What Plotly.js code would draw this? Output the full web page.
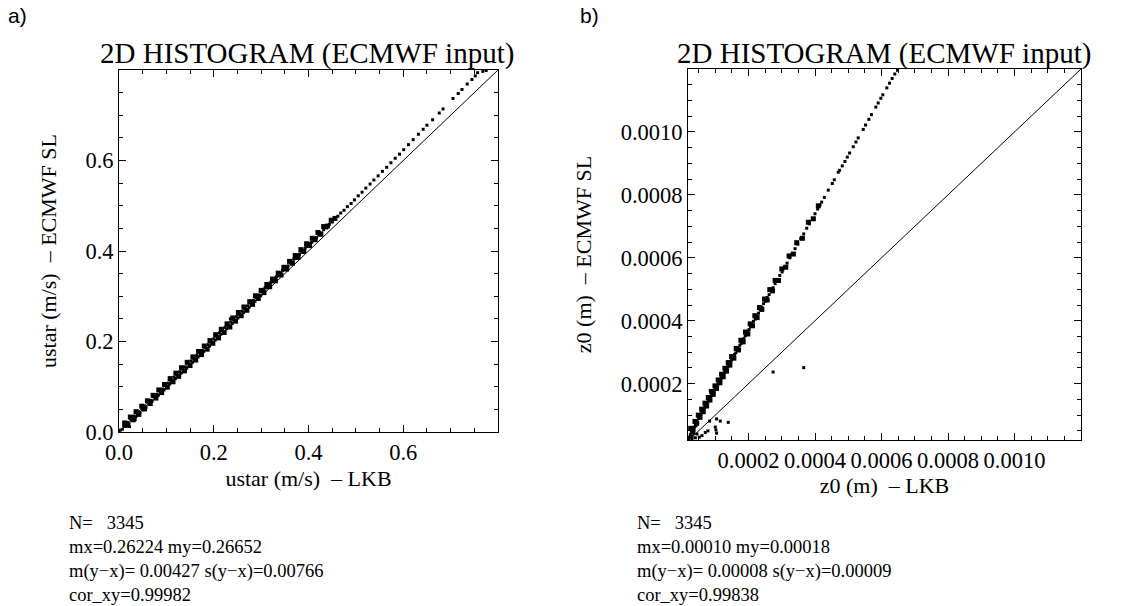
<!DOCTYPE html>
<html>
<head>
<meta charset="utf-8">
<script src="https://cdn.plot.ly/plotly-3.0.1.min.js"></script>
<style>html,body{margin:0;padding:0;background:#fff;}#chart{width:1131px;height:606px;}</style>
</head>
<body>
<div id="chart"></div>
<script>
// ---------- Panel a: ustar (m/s), LKB (x) vs ECMWF SL (y) ----------
const ustarLKB = [
  0.003,0.007,0.010,0.014,0.018,0.021,0.022,0.025,0.028,0.031,0.034,0.035,0.038,0.041,0.044,0.048,0.051,0.054,0.057,0.061,0.064,0.067,0.070,0.073,0.077,0.080,0.083,0.086,0.089,0.092,0.095,0.098,
  0.101,0.104,0.107,0.110,0.113,0.116,0.119,0.122,0.125,0.128,0.131,0.134,0.137,0.140,0.143,0.146,0.149,0.152,0.155,0.158,0.161,0.164,0.167,0.170,0.173,0.176,0.179,0.182,0.185,0.188,0.191,0.194,0.197,
  0.200,0.203,0.206,0.209,0.212,0.215,0.218,0.221,0.224,0.227,0.230,0.233,0.235,0.236,0.239,0.242,0.245,0.248,0.251,0.254,0.257,0.260,0.262,0.263,0.266,0.269,0.272,0.275,0.278,0.281,0.284,0.287,0.290,0.293,0.296,0.299,
  0.302,0.305,0.308,0.311,0.314,0.317,0.320,0.323,0.326,0.329,0.332,0.335,0.338,0.341,0.345,0.349,0.353,0.357,0.361,0.365,0.369,0.373,0.377,0.381,0.385,0.389,0.393,0.397,
  0.402,0.407,0.412,0.417,0.422,0.427,0.432,0.438,0.444,0.450,0.456,0.462,0.468,0.475,0.482,0.490,0.497,
  0.505,0.513,0.521,0.530,0.538,0.547,0.556,0.565,0.574,0.583,0.592,0.601,0.611,0.621,0.632,0.642,0.650,0.662,0.676,0.684,0.705,0.716,0.724,0.735,0.745,0.752,0.757,0.768,0.775
];
const ustarECMWF = [
  0.004,0.006,0.013,0.012,0.021,0.019,0.012,0.028,0.026,0.035,0.027,0.033,0.036,0.045,0.043,0.051,0.049,0.058,0.055,0.065,0.062,0.070,0.068,0.078,0.075,0.083,0.081,0.091,0.088,0.095,0.093,0.103,
  0.100,0.108,0.106,0.114,0.112,0.121,0.118,0.126,0.124,0.133,0.130,0.139,0.136,0.144,0.141,0.151,0.148,0.157,0.154,0.162,0.160,0.169,0.166,0.175,0.172,0.180,0.178,0.187,0.184,0.193,0.190,0.199,0.196,
  0.206,0.203,0.212,0.210,0.219,0.216,0.224,0.222,0.231,0.228,0.236,0.234,0.250,0.243,0.240,0.248,0.246,0.255,0.252,0.260,0.258,0.267,0.278,0.264,0.272,0.270,0.279,0.276,0.285,0.282,0.291,0.289,0.297,0.295,0.303,0.301,
  0.311,0.313,0.318,0.319,0.324,0.326,0.330,0.332,0.337,0.338,0.343,0.345,0.350,0.351,0.357,0.359,0.365,0.367,0.374,0.376,0.382,0.384,0.390,0.393,0.398,0.401,0.407,0.410,
  0.417,0.419,0.427,0.430,0.436,0.440,0.447,0.451,0.459,0.464,0.471,0.477,0.484,0.490,0.498,0.505,0.513,
  0.522,0.530,0.539,0.548,0.557,0.566,0.576,0.585,0.595,0.605,0.614,0.624,0.635,0.646,0.658,0.669,0.678,0.690,0.705,0.714,0.737,0.748,0.757,0.769,0.779,0.787,0.794,0.797,0.799
];
const ustarLKBdense = [
  0.012,0.018,0.024,0.030,0.036,0.042,0.048,0.054,0.060,0.066,0.072,0.078,0.084,0.090,0.096,0.102,0.108,0.114,0.120,0.126,0.132,0.138,0.144,0.150,0.156,0.162,0.168,0.174,0.180,0.186,0.192,0.198,
  0.204,0.210,0.216,0.222,0.228,0.234,0.240,0.246,0.252,0.258,0.264,0.270,0.276,0.282,0.288,0.294,0.300,0.306,0.312,0.318,0.324,0.330,0.336,0.342,0.348,0.354,0.360,0.366,0.372,0.378,0.384,0.390,
  0.396,0.402,0.408,0.414,0.420,0.426,0.432,0.440,0.448,0.456
];
const ustarECMWFdense = [
  0.020,0.015,0.033,0.027,0.045,0.039,0.057,0.051,0.069,0.063,0.081,0.075,0.093,0.087,0.105,0.099,0.118,0.111,0.130,0.123,0.142,0.135,0.154,0.147,0.166,0.159,0.178,0.171,0.190,0.183,0.202,0.196,
  0.215,0.208,0.227,0.220,0.239,0.232,0.252,0.245,0.264,0.257,0.276,0.269,0.288,0.282,0.301,0.295,0.313,0.308,0.326,0.321,0.338,0.334,0.351,0.347,0.364,0.360,0.377,0.373,0.390,0.386,0.403,0.399,
  0.416,0.412,0.428,0.425,0.441,0.437,0.454,0.455,0.468,0.472
];
const diagA = [0, 0.8];
const ticksA = [0, 0.2, 0.4, 0.6];
const statsA = ["N=\u00a0\u00a0\u00a03345", "mx=0.26224 my=0.26652", "m(y\u2212x)= 0.00427 s(y\u2212x)=0.00766", "cor_xy=0.99982"];

// ---------- Panel b: z0 (m), LKB (x) vs ECMWF SL (y) ----------
const z0LKB = [
  0.000020,0.000022,0.000025,0.000028,0.000030,0.000032,0.000035,0.000037,0.000040,0.000042,0.000045,0.000047,0.000050,0.000053,0.000055,0.000058,0.000060,0.000063,0.000065,0.000068,
  0.000070,0.000073,0.000075,0.000078,0.000080,0.000083,0.000085,0.000088,0.000090,0.000093,0.000095,0.000098,0.000100,0.000103,0.000105,0.000108,0.000110,0.000113,0.000115,0.000118,
  0.000120,0.000123,0.000125,0.000128,0.000130,0.000133,0.000135,0.000138,0.000140,0.000143,0.000145,0.000148,0.000150,0.000154,0.000158,0.000162,0.000166,0.000170,0.000174,0.000178,
  0.000182,0.000186,0.000190,0.000194,0.000198,0.000202,0.000206,0.000210,0.000215,0.000220,0.000225,0.000230,0.000235,0.000240,0.000245,0.000250,0.000256,0.000262,0.000268,0.000274,
  0.000280,0.000287,0.000294,0.000301,0.000308,0.000316,0.000324,0.000331,0.000340,0.000348,0.000357,0.000366,0.000375,0.000383,0.000392,0.000400,0.000408,0.000415,0.000420,0.000428,
  0.000440,0.000452,0.000458,0.000470,0.000474,0.000482,0.000490,0.000497,0.000504,0.000515,0.000523,0.000530,0.000545,0.000552,0.000562,0.000570,0.000583,0.000590,0.000598,0.000604,
  0.000616,0.000624,0.000632,0.000640,0.000648,
  0.000274,0.000366,0.000085,0.000104,0.000115,0.000139,0.000083,0.000100,0.000102,0.000104,0.000070,0.000078,0.000060,0.000052,0.000040,0.000045,0.000035,0.000030
];
const z0ECMWF = [
  0.000022,0.000030,0.000038,0.000045,0.000033,0.000055,0.000050,0.000062,0.000070,0.000066,0.000080,0.000076,0.000090,0.000094,0.000100,0.000104,0.000112,0.000113,0.000121,0.000124,
  0.000131,0.000133,0.000140,0.000142,0.000150,0.000151,0.000159,0.000161,0.000168,0.000170,0.000177,0.000179,0.000186,0.000188,0.000195,0.000198,0.000204,0.000207,0.000213,0.000216,
  0.000222,0.000225,0.000232,0.000235,0.000241,0.000244,0.000250,0.000253,0.000260,0.000262,0.000269,0.000272,0.000278,0.000283,0.000293,0.000298,0.000308,0.000313,0.000322,0.000328,
  0.000337,0.000343,0.000352,0.000358,0.000367,0.000372,0.000382,0.000387,0.000398,0.000405,0.000417,0.000424,0.000436,0.000442,0.000454,0.000461,0.000474,0.000483,0.000496,0.000505,
  0.000518,0.000530,0.000544,0.000555,0.000570,0.000583,0.000600,0.000611,0.000629,0.000643,0.000661,0.000676,0.000694,0.000708,0.000725,0.000740,0.000755,0.000768,0.000777,0.000792,
  0.000815,0.000836,0.000848,0.000872,0.000878,0.000892,0.000906,0.000920,0.000933,0.000953,0.000968,0.000981,0.001008,0.001022,0.001040,0.001055,0.001079,0.001092,0.001107,0.001118,
  0.001140,0.001155,0.001170,0.001184,0.001196,
  0.000237,0.000251,0.000178,0.000088,0.000081,0.000077,0.000081,0.000062,0.000053,0.000043,0.000045,0.000050,0.000035,0.000030,0.000028,0.000040,0.000042,0.000025
];
const z0LKBdense = [
  0.000026,0.000033,0.000039,0.000044,0.000049,0.000054,0.000059,0.000064,0.000069,0.000074,0.000079,0.000084,0.000089,0.000094,0.000099,0.000104,0.000109,0.000114,0.000119,0.000124,
  0.000129,0.000134,0.000139,0.000144,0.000149,0.000156,0.000163,0.000170,0.000177,0.000184,0.000191,0.000198,0.000205,0.000212,0.000219,0.000226,0.000233,0.000240,0.000248,0.000256,
  0.000264,0.000272,0.000280,0.000290,0.000300,0.000312,0.000322,0.000335,0.000345,0.000362,0.000380,0.000395,0.000410
];
const z0ECMWFdense = [
  0.000058,0.000053,0.000080,0.000074,0.000100,0.000093,0.000119,0.000111,0.000138,0.000129,0.000156,0.000148,0.000175,0.000166,0.000193,0.000185,0.000212,0.000203,0.000230,0.000222,
  0.000249,0.000240,0.000267,0.000259,0.000286,0.000281,0.000312,0.000307,0.000338,0.000333,0.000364,0.000358,0.000390,0.000384,0.000416,0.000410,0.000442,0.000436,0.000469,0.000466,
  0.000499,0.000495,0.000528,0.000528,0.000565,0.000570,0.000606,0.000612,0.000648,0.000662,0.000713,0.000724,0.000765
];
const diagB = [0.00001, 0.0012];
const ticksB = [0.0002, 0.0004, 0.0006, 0.0008, 0.0010];
const statsB = ["N=\u00a0\u00a0\u00a03345", "mx=0.00010 my=0.00018", "m(y\u2212x)= 0.00008 s(y\u2212x)=0.00009", "cor_xy=0.99838"];

const plotTitle = "2D HISTOGRAM (ECMWF input)";

// ---------- geometry (pixels -> paper) ----------
const W = 1131, H = 606;
const px = v => v / W, py = v => 1 - v / H;
const boxA = {l: 119, r: 498, t: 70, b: 432};
const boxB = {l: 688, r: 1081, t: 69, b: 440};

const serif = "Liberation Serif";
const sans = "Liberation Sans";

function pts(x, y, xa, ya, size) {
  return {x: x, y: y, xaxis: xa, yaxis: ya, type: "scatter", mode: "markers",
          marker: {color: "black", size: size, symbol: "square", line: {width: 0}}, cliponaxis: true, hoverinfo: "skip"};
}
const traces = [
  pts(ustarLKBdense, ustarECMWFdense, "x", "y", 5),
  pts(ustarLKB, ustarECMWF, "x", "y", 3),
  {x: diagA, y: diagA, xaxis: "x", yaxis: "y", type: "scatter", mode: "lines", line: {color: "black", width: 1}, hoverinfo: "skip"},
  pts(z0LKBdense, z0ECMWFdense, "x2", "y2", 5),
  pts(z0LKB, z0ECMWF, "x2", "y2", 3),
  {x: diagB, y: diagB, xaxis: "x2", yaxis: "y2", type: "scatter", mode: "lines", line: {color: "black", width: 1}, hoverinfo: "skip"}
];

function axis(domain, range, tickvals, fmt, minorStep, titleText, standoff) {
  return {
    domain: domain, range: range, autorange: false,
    tickmode: "array", tickvals: tickvals, tickformat: fmt, tickangle: 0,
    ticks: "inside", ticklen: 7, tickwidth: 1, tickcolor: "black",
    showline: true, linecolor: "black", linewidth: 1, mirror: "ticks",
    showgrid: false, zeroline: false,
    tickfont: {family: serif, size: 22.5, color: "black"},
    minor: {dtick: minorStep, tick0: 0, ticks: "inside", ticklen: 4, tickwidth: 1, tickcolor: "black", showgrid: false},
    title: {text: titleText, font: {family: serif, size: 22, color: "black"}, standoff: standoff},
    automargin: false, fixedrange: true
  };
}

const annotations = [];
function addText(text, xpix, ypix, opts) {
  annotations.push(Object.assign({
    text: text, xref: "paper", yref: "paper", x: px(xpix), y: py(ypix),
    showarrow: false, xanchor: "left", yanchor: "middle",
    font: {family: serif, size: 18.5, color: "black"}
  }, opts || {}));
}
addText("a)", 6, 16, {font: {family: sans, size: 21, color: "black"}});
addText("b)", 578, 16, {font: {family: sans, size: 21, color: "black"}});
addText(plotTitle, (boxA.l + boxA.r) / 2 - 2, 53, {xanchor: "center", font: {family: serif, size: 29, color: "black"}});
addText(plotTitle, (boxB.l + boxB.r) / 2 - 1, 53, {xanchor: "center", font: {family: serif, size: 29, color: "black"}});
statsA.forEach((s, i) => addText(s, 67, 523 + 24 * i));
statsB.forEach((s, i) => addText(s, 635, 523 + 24 * i));

const layout = {
  width: W, height: H, margin: {l: 0, r: 0, t: 0, b: 0},
  paper_bgcolor: "white", plot_bgcolor: "white", showlegend: false,
  font: {family: serif, color: "black"},
  xaxis: axis([px(boxA.l), px(boxA.r)], [0, 0.8], ticksA, ".1f", 0.05, "ustar (m/s)\u00a0\u00a0\u2013 LKB", 6),
  yaxis: axis([py(boxA.b), py(boxA.t)], [0, 0.8], ticksA, ".1f", 0.05, "ustar (m/s)\u00a0\u00a0\u2013 ECMWF SL", 22),
  xaxis2: axis([px(boxB.l), px(boxB.r)], [0.000018, 0.0012], ticksB, ".4f", 0.00005, "z0 (m)\u00a0\u00a0\u2013 LKB", 4),
  yaxis2: axis([py(boxB.b), py(boxB.t)], [0.000021, 0.0012], ticksB, ".4f", 0.00005, "z0 (m)\u00a0\u00a0\u2013 ECMWF SL", 22),
  annotations: annotations
};
layout.xaxis.anchor = "y"; layout.yaxis.anchor = "x";
layout.xaxis2.anchor = "y2"; layout.yaxis2.anchor = "x2";

Plotly.newPlot("chart", traces, layout, {staticPlot: true, displayModeBar: false});
</script>
</body>
</html>
